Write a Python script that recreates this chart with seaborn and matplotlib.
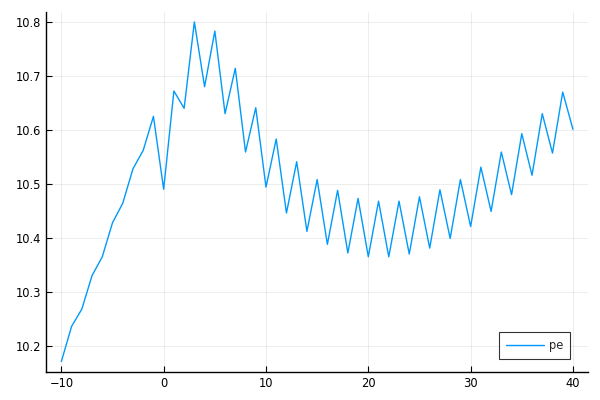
import numpy as np
import pandas as pd
import matplotlib
matplotlib.use("Agg")
import matplotlib.pyplot as plt
import seaborn as sns

x = list(range(-10, 41))
pe = [10.171, 10.236, 10.268, 10.330, 10.365, 10.428, 10.464, 10.528, 10.562, 10.625,
      10.490, 10.672, 10.640, 10.800, 10.680, 10.783, 10.630, 10.714, 10.559, 10.641,
      10.494, 10.583, 10.446, 10.541, 10.412, 10.508, 10.388, 10.488, 10.372, 10.473,
      10.365, 10.468, 10.365, 10.468, 10.370, 10.476, 10.381, 10.489, 10.399, 10.508,
      10.421, 10.531, 10.449, 10.559, 10.480, 10.593, 10.516, 10.630, 10.557, 10.670,
      10.601]

df = pd.DataFrame({"x": x, "pe": pe})

sns.set_style("white")
plt.rcParams['font.family'] = ['DejaVu Sans']

fig = plt.figure(figsize=(6, 4), dpi=100)
ax = fig.add_axes([46/600, 1 - 371.7/400, (588.3 - 46)/600, (371.7 - 11.7)/400])

sns.lineplot(data=df, x="x", y="pe", ax=ax, color="#009AFA", linewidth=1, label="pe")

ax.set_xlim(-11.5, 41.5)
ax.set_ylim(10.1521, 10.8189)
ax.set_xticks([-10, 0, 10, 20, 30, 40])
ax.set_xticklabels(["\u221210", "0", "10", "20", "30", "40"])
ax.set_yticks([10.2, 10.3, 10.4, 10.5, 10.6, 10.7, 10.8])
ax.set_xlabel("")
ax.set_ylabel("")
ax.grid(True, color="black", alpha=0.1, linewidth=0.5)
for s in ["top", "right"]:
    ax.spines[s].set_visible(False)
for s in ["left", "bottom"]:
    ax.spines[s].set_color("black")
    ax.spines[s].set_linewidth(1)
ax.tick_params(direction="in", length=4, width=0.8, labelsize=8.3, colors="black",
               left=True, bottom=True)

leg = ax.legend(loc="lower right", bbox_to_anchor=(0.9668, 0.0344), borderaxespad=0,
                fontsize=8.3, frameon=True, fancybox=False, borderpad=0.6,
                handlelength=3.3, handletextpad=0.4)
leg.get_frame().set_edgecolor("black")
leg.get_frame().set_linewidth(0.8)

fig.savefig("out.png", dpi=100)
